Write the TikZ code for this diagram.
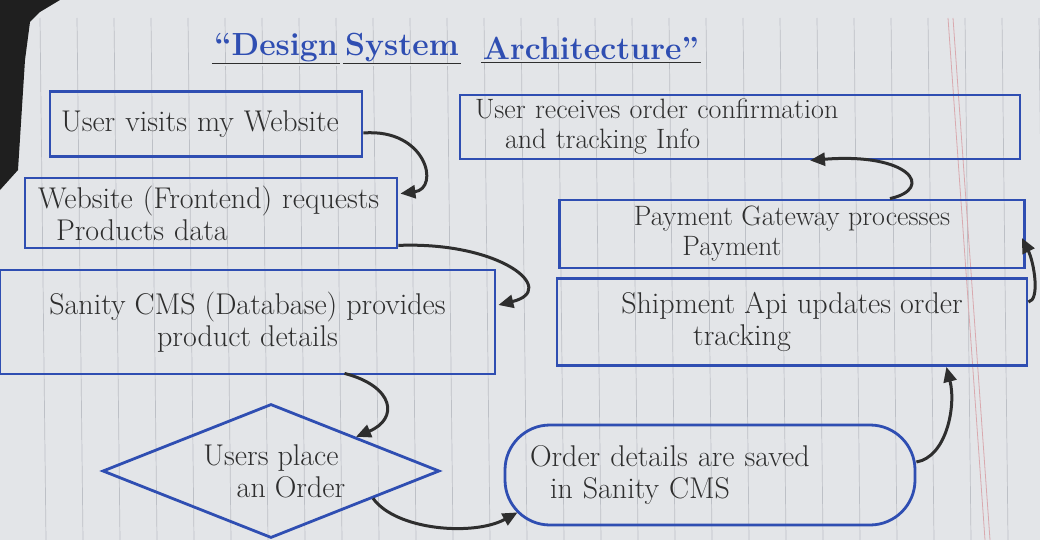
\documentclass[tikz,border=0pt]{standalone}
\usetikzlibrary{arrows.meta,shapes.geometric,calc}
\definecolor{paper}{HTML}{E3E5E8}
\definecolor{inkblue}{HTML}{2F4EB2}
\definecolor{pencil}{HTML}{2E2E2E}
\definecolor{rulec}{HTML}{BDC0C6}
\definecolor{margin}{HTML}{D9A9AE}
\begin{document}
\begin{tikzpicture}[x=1pt,y=-1pt,
  box/.style={draw=inkblue, line width=2.8pt, text=pencil, inner sep=0pt,
    font=\fontsize{30}{32}\selectfont},
  tight/.style={font=\fontsize{28}{30}\selectfont},
  flow/.style={draw=pencil, line width=3pt, -{Triangle[length=15pt,width=13pt]}},
  titleword/.style={text=inkblue, font=\fontsize{32}{34}\selectfont\bfseries, inner sep=2pt},
  uline/.style={draw=pencil, line width=0.8pt, double=paper, double distance=2pt}]
\useasboundingbox (0,0) rectangle (1040,540);
\fill[paper] (0,0) rectangle (1040,540);
% notebook ruling
\foreach \x in {40,77,...,1040} \draw[rulec, line width=0.7pt] (\x,18) -- (\x+6,540);
\draw[margin, line width=0.8pt] (948,18) -- (985,540);
\draw[margin, line width=0.8pt] (953,18) -- (990,540);
\fill[black!88] (0,0) -- (60,0) -- (40,12) -- (30,22) -- (25,60) -- (18,170) -- (0,190) -- cycle;

% title
\node[titleword] (t1) at (276,48) {``Design};
\node[titleword] (t2) at (402,48) {System};
\node[titleword] (t3) at (591,48) {Architecture''};
\draw[uline] (t1.south west) -- (t1.south east);
\draw[uline] (t2.south west) -- (t2.south east);
\draw[uline] (t3.south west) -- (t3.south east);

% left column
\node[box, minimum width=312pt, minimum height=65pt, text width=290pt, align=left]
  (b1) at (206,124) {User visits my Website};
\node[box, minimum width=372pt, minimum height=70pt, text width=346pt, align=left]
  (b2) at (211,213) {Website (Frontend) requests\\\hspace*{18pt}Products data};
\node[box, minimum width=495pt, minimum height=104pt, align=center]
  (b3) at (247.5,322) {Sanity CMS (Database) provides\\product details};
\node[box, diamond, aspect=2.5, minimum width=337pt, minimum height=134pt, align=center]
  (d) at (271,471) {Users place\\\hspace*{40pt}an Order};
\node[box, rounded corners=45pt, minimum width=410pt, minimum height=100pt, text width=360pt, align=left]
  (od) at (710,475) {Order details are saved\\\hspace*{20pt}in Sanity CMS};

% right column
\node[box, minimum width=470pt, minimum height=87pt, align=center]
  (sh) at (792,322) {Shipment Api updates order\\tracking\hspace*{100pt}};
\node[box, tight, minimum width=465pt, minimum height=68pt, align=center]
  (pay) at (792,234) {Payment Gateway processes\\Payment\hspace*{120pt}};
\node[box, tight, minimum width=560pt, minimum height=64pt, text width=530pt, align=left]
  (ur) at (740,127) {User receives order confirmation\\\hspace*{30pt}and tracking Info};

% connectors
\draw[flow] ($(b1.east)+(0,9)$) .. controls +(63,-5) and +(40,-5) .. ($(b2.north east)+(2,17)$);
\draw[flow] ($(b2.south east)+(0,-4)$) .. controls +(103,-4) and +(61,-15) .. ($(b3.east)+(2,-17)$);
\draw[flow] ($(b3.south)+(97,-2)$) .. controls +(50,13) and +(43,-18) .. (d.north east);
\draw[flow] (d.-15) .. controls +(23,32) and +(-44,24) .. ($(od.south west)+(14,-14)$);
\draw[flow] ($(od.east)+(0,-13)$) .. controls +(30,-5) and +(10,39) .. ($(sh.south east)+(-82,0)$);
\draw[flow] ($(sh.east)+(0,-20)$) .. controls +(12,-2) and +(12,24) .. ($(pay.east)+(-4,4)$);
\draw[flow] ($(pay.north)+(98,0)$) .. controls +(45,-10) and +(100,-8) .. ($(ur.south)+(70,0)$);
\end{tikzpicture}
\end{document}
